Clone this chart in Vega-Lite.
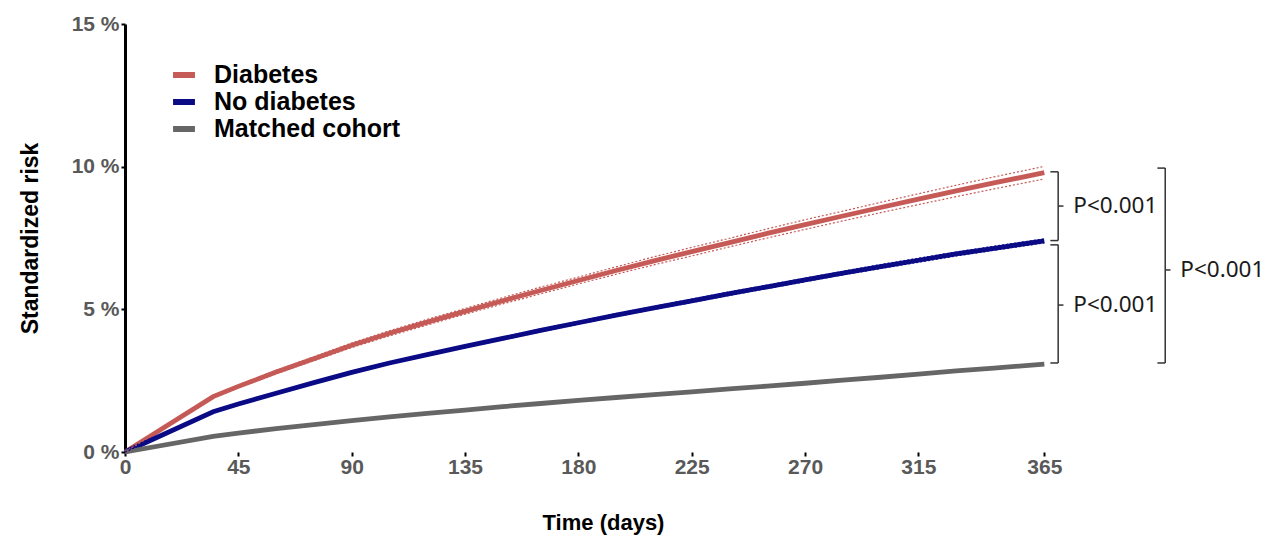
{
  "$schema": "https://vega.github.io/schema/vega-lite/v6.json",
  "width": 1146,
  "height": 428,
  "autosize": {"type": "none"},
  "padding": {"left": 125, "top": 24, "right": 5, "bottom": 84},
  "background": "white",
  "config": {
    "view": {"stroke": null},
    "font": "Liberation Sans"
  },
  "datasets": {
    "risk": [
      {"group": "Diabetes", "day": 0, "risk": 0, "lo": 0, "hi": 0},
      {"group": "Diabetes", "day": 35, "risk": 1.94, "lo": 1.9, "hi": 1.98},
      {"group": "Diabetes", "day": 45, "risk": 2.3, "lo": 2.25, "hi": 2.35},
      {"group": "Diabetes", "day": 60, "risk": 2.8, "lo": 2.74, "hi": 2.86},
      {"group": "Diabetes", "day": 75, "risk": 3.27, "lo": 3.2, "hi": 3.34},
      {"group": "Diabetes", "day": 90, "risk": 3.74, "lo": 3.66, "hi": 3.82},
      {"group": "Diabetes", "day": 105, "risk": 4.16, "lo": 4.07, "hi": 4.25},
      {"group": "Diabetes", "day": 120, "risk": 4.55, "lo": 4.45, "hi": 4.65},
      {"group": "Diabetes", "day": 135, "risk": 4.93, "lo": 4.83, "hi": 5.03},
      {"group": "Diabetes", "day": 150, "risk": 5.3, "lo": 5.19, "hi": 5.41},
      {"group": "Diabetes", "day": 165, "risk": 5.66, "lo": 5.54, "hi": 5.78},
      {"group": "Diabetes", "day": 180, "risk": 6.01, "lo": 5.89, "hi": 6.13},
      {"group": "Diabetes", "day": 195, "risk": 6.36, "lo": 6.23, "hi": 6.49},
      {"group": "Diabetes", "day": 210, "risk": 6.7, "lo": 6.56, "hi": 6.84},
      {"group": "Diabetes", "day": 225, "risk": 7.02, "lo": 6.87, "hi": 7.17},
      {"group": "Diabetes", "day": 240, "risk": 7.34, "lo": 7.19, "hi": 7.49},
      {"group": "Diabetes", "day": 255, "risk": 7.66, "lo": 7.5, "hi": 7.82},
      {"group": "Diabetes", "day": 270, "risk": 7.97, "lo": 7.8, "hi": 8.14},
      {"group": "Diabetes", "day": 285, "risk": 8.27, "lo": 8.1, "hi": 8.44},
      {"group": "Diabetes", "day": 300, "risk": 8.57, "lo": 8.39, "hi": 8.75},
      {"group": "Diabetes", "day": 315, "risk": 8.86, "lo": 8.67, "hi": 9.05},
      {"group": "Diabetes", "day": 330, "risk": 9.15, "lo": 8.95, "hi": 9.35},
      {"group": "Diabetes", "day": 345, "risk": 9.43, "lo": 9.22, "hi": 9.64},
      {"group": "Diabetes", "day": 365, "risk": 9.79, "lo": 9.57, "hi": 10.01},
      {"group": "No diabetes", "day": 0, "risk": 0, "lo": 0, "hi": 0},
      {"group": "No diabetes", "day": 35, "risk": 1.41, "lo": 1.39, "hi": 1.43},
      {"group": "No diabetes", "day": 45, "risk": 1.68, "lo": 1.65, "hi": 1.71},
      {"group": "No diabetes", "day": 60, "risk": 2.06, "lo": 2.03, "hi": 2.09},
      {"group": "No diabetes", "day": 75, "risk": 2.43, "lo": 2.4, "hi": 2.46},
      {"group": "No diabetes", "day": 90, "risk": 2.79, "lo": 2.75, "hi": 2.83},
      {"group": "No diabetes", "day": 105, "risk": 3.12, "lo": 3.08, "hi": 3.16},
      {"group": "No diabetes", "day": 120, "risk": 3.41, "lo": 3.37, "hi": 3.45},
      {"group": "No diabetes", "day": 135, "risk": 3.7, "lo": 3.66, "hi": 3.74},
      {"group": "No diabetes", "day": 150, "risk": 3.98, "lo": 3.93, "hi": 4.03},
      {"group": "No diabetes", "day": 165, "risk": 4.26, "lo": 4.21, "hi": 4.31},
      {"group": "No diabetes", "day": 180, "risk": 4.53, "lo": 4.48, "hi": 4.58},
      {"group": "No diabetes", "day": 195, "risk": 4.8, "lo": 4.75, "hi": 4.85},
      {"group": "No diabetes", "day": 210, "risk": 5.05, "lo": 5.0, "hi": 5.1},
      {"group": "No diabetes", "day": 225, "risk": 5.3, "lo": 5.24, "hi": 5.36},
      {"group": "No diabetes", "day": 240, "risk": 5.55, "lo": 5.49, "hi": 5.61},
      {"group": "No diabetes", "day": 255, "risk": 5.79, "lo": 5.73, "hi": 5.85},
      {"group": "No diabetes", "day": 270, "risk": 6.03, "lo": 5.97, "hi": 6.09},
      {"group": "No diabetes", "day": 285, "risk": 6.27, "lo": 6.21, "hi": 6.33},
      {"group": "No diabetes", "day": 300, "risk": 6.5, "lo": 6.43, "hi": 6.57},
      {"group": "No diabetes", "day": 315, "risk": 6.72, "lo": 6.65, "hi": 6.79},
      {"group": "No diabetes", "day": 330, "risk": 6.94, "lo": 6.87, "hi": 7.01},
      {"group": "No diabetes", "day": 345, "risk": 7.14, "lo": 7.07, "hi": 7.21},
      {"group": "No diabetes", "day": 365, "risk": 7.4, "lo": 7.33, "hi": 7.47},
      {"group": "Matched cohort", "day": 0, "risk": 0},
      {"group": "Matched cohort", "day": 35, "risk": 0.55},
      {"group": "Matched cohort", "day": 45, "risk": 0.66},
      {"group": "Matched cohort", "day": 60, "risk": 0.82},
      {"group": "Matched cohort", "day": 75, "risk": 0.96},
      {"group": "Matched cohort", "day": 90, "risk": 1.1},
      {"group": "Matched cohort", "day": 105, "risk": 1.23},
      {"group": "Matched cohort", "day": 120, "risk": 1.35},
      {"group": "Matched cohort", "day": 135, "risk": 1.47},
      {"group": "Matched cohort", "day": 150, "risk": 1.59},
      {"group": "Matched cohort", "day": 165, "risk": 1.7},
      {"group": "Matched cohort", "day": 180, "risk": 1.81},
      {"group": "Matched cohort", "day": 195, "risk": 1.91},
      {"group": "Matched cohort", "day": 210, "risk": 2.01},
      {"group": "Matched cohort", "day": 225, "risk": 2.11},
      {"group": "Matched cohort", "day": 240, "risk": 2.21},
      {"group": "Matched cohort", "day": 255, "risk": 2.31},
      {"group": "Matched cohort", "day": 270, "risk": 2.41},
      {"group": "Matched cohort", "day": 285, "risk": 2.52},
      {"group": "Matched cohort", "day": 300, "risk": 2.62},
      {"group": "Matched cohort", "day": 315, "risk": 2.73},
      {"group": "Matched cohort", "day": 330, "risk": 2.84},
      {"group": "Matched cohort", "day": 345, "risk": 2.94},
      {"group": "Matched cohort", "day": 365, "risk": 3.08}
    ],
    "brackets": [
      {"x": 370.5, "x2": 370.5, "y": 9.82, "y2": 7.41},
      {"x": 367.4, "x2": 370.5, "y": 9.82, "y2": 9.82},
      {"x": 367.4, "x2": 370.5, "y": 7.41, "y2": 7.41},
      {"x": 370.5, "x2": 372.6, "y": 8.62, "y2": 8.62},
      {"x": 370.5, "x2": 370.5, "y": 7.26, "y2": 3.12},
      {"x": 367.4, "x2": 370.5, "y": 7.26, "y2": 7.26},
      {"x": 367.4, "x2": 370.5, "y": 3.12, "y2": 3.12},
      {"x": 370.5, "x2": 372.6, "y": 5.15, "y2": 5.15},
      {"x": 413.0, "x2": 413.0, "y": 9.95, "y2": 3.12},
      {"x": 409.9, "x2": 413.0, "y": 9.95, "y2": 9.95},
      {"x": 409.9, "x2": 413.0, "y": 3.12, "y2": 3.12},
      {"x": 413.0, "x2": 415.1, "y": 6.38, "y2": 6.38}
    ],
    "labels": [
      {"x": 376.5, "y": 8.62, "text": "P<0.001"},
      {"x": 376.5, "y": 5.15, "text": "P<0.001"},
      {"x": 419.0, "y": 6.38, "text": "P<0.001"}
    ]
  },
  "layer": [
    {
      "data": {"name": "risk"},
      "mark": {"type": "line", "strokeWidth": 4.8},
      "encoding": {
        "x": {
          "field": "day",
          "type": "quantitative",
          "scale": {"domain": [0, 455], "nice": false, "zero": true},
          "axis": {
            "values": [0, 45, 90, 135, 180, 225, 270, 315, 365],
            "domain": false,
            "grid": false,
            "tickColor": "black",
            "tickSize": 4,
            "tickWidth": 2,
            "labelFont": "Liberation Sans",
            "labelFontWeight": "bold",
            "labelFontSize": 21,
            "labelColor": "#595959",
            "labelPadding": 0,
            "labelFlush": false,
            "title": "Time (days)",
            "titleFont": "Liberation Sans",
            "titleFontSize": 22,
            "titleFontWeight": "bold",
            "titleColor": "black",
            "titleX": 478,
            "titleY": 70,
            "titleBaseline": "middle",
            "titleAlign": "center"
          }
        },
        "y": {
          "field": "risk",
          "type": "quantitative",
          "scale": {"domain": [0, 15], "nice": false},
          "axis": {
            "values": [0, 5, 10, 15],
            "labelExpr": "datum.value + ' %'",
            "domainColor": "black",
            "domainWidth": 3,
            "grid": false,
            "tickColor": "black",
            "tickSize": 4,
            "tickWidth": 2,
            "labelFont": "Liberation Sans",
            "labelFontWeight": "bold",
            "labelFontSize": 21,
            "labelColor": "#595959",
            "labelPadding": 2,
            "labelFlush": false,
            "title": "Standardized risk",
            "titleFont": "Liberation Sans",
            "titleFontSize": 23,
            "titleFontWeight": "bold",
            "titleColor": "black",
            "titleAngle": -90,
            "titleX": -95,
            "titleY": 214,
            "titleBaseline": "middle",
            "titleAlign": "center"
          }
        },
        "color": {
          "field": "group",
          "type": "nominal",
          "sort": ["Diabetes", "No diabetes", "Matched cohort"],
          "scale": {"domain": ["Diabetes", "No diabetes", "Matched cohort"], "range": ["#C55A57", "#0B0B86", "#666666"]},
          "legend": {
            "title": null,
            "orient": "none",
            "legendX": 45,
            "legendY": 37,
            "symbolType": "stroke",
            "symbolStrokeWidth": 6,
            "symbolSize": 480,
            "labelFont": "Liberation Sans",
            "labelFontSize": 25,
            "labelFontWeight": "bold",
            "labelColor": "black",
            "labelOffset": 16,
            "labelLimit": 500,
            "rowPadding": 0
          }
        },
        "order": {"field": "day"}
      }
    },
    {
      "data": {"name": "risk"},
      "transform": [{"filter": "datum.group !== 'Matched cohort'"}],
      "mark": {"type": "line", "strokeWidth": 1.2, "strokeDash": [2, 2]},
      "encoding": {
        "x": {"field": "day", "type": "quantitative"},
        "y": {"field": "lo", "type": "quantitative"},
        "detail": {"field": "group"},
        "color": {"field": "group", "type": "nominal"}
      }
    },
    {
      "data": {"name": "risk"},
      "transform": [{"filter": "datum.group !== 'Matched cohort'"}],
      "mark": {"type": "line", "strokeWidth": 1.2, "strokeDash": [2, 2]},
      "encoding": {
        "x": {"field": "day", "type": "quantitative"},
        "y": {"field": "hi", "type": "quantitative"},
        "detail": {"field": "group"},
        "color": {"field": "group", "type": "nominal"}
      }
    },
    {
      "mark": {"type": "rule", "strokeWidth": 3, "color": "black"},
      "encoding": {
        "x": {"datum": 0},
        "x2": {"datum": 379},
        "y": {"datum": 0}
      }
    },
    {
      "data": {"name": "brackets"},
      "mark": {"type": "rule", "strokeWidth": 1.5, "color": "#333333"},
      "encoding": {
        "x": {"field": "x", "type": "quantitative"},
        "x2": {"field": "x2"},
        "y": {"field": "y", "type": "quantitative"},
        "y2": {"field": "y2"}
      }
    },
    {
      "data": {"name": "labels"},
      "mark": {"type": "text", "align": "left", "baseline": "middle", "font": "Noto Sans", "fontSize": 22.5, "color": "#1a1a1a"},
      "encoding": {
        "x": {"field": "x", "type": "quantitative"},
        "y": {"field": "y", "type": "quantitative"},
        "text": {"field": "text"}
      }
    }
  ]
}
